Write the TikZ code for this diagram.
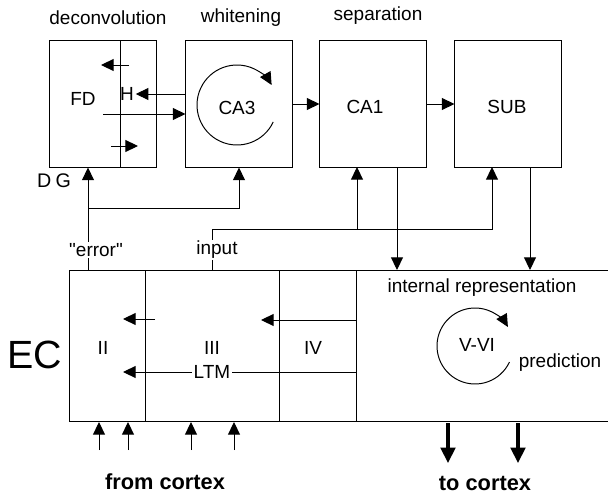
\documentclass[tikz,border=0pt]{standalone}
\usepackage{fontspec}
\setmainfont{Liberation Sans}
\usepackage{tikz}
\usetikzlibrary{arrows.meta,positioning}

\begin{document}
\begin{tikzpicture}[x=0.025cm,y=-0.025cm,line width=0.7pt,
    >={Triangle[length=9pt,width=8.5pt]},
    area/.style={draw,minimum width=2.65cm,minimum height=3.15cm,inner sep=0pt},
    lbl/.style={font=\fontsize{13.5}{16}\selectfont,inner sep=1pt},
    bigbold/.style={font=\fontsize{15.5}{18}\selectfont\bfseries},
    fatarrow/.style={line width=2.2pt,-{Triangle[length=11pt,width=10.5pt]}}]
    \useasboundingbox (0,0) rectangle (608,493);

    % hippocampal areas
    \node[area] (fd) at (103,104) {};
    \node[area] (ca3) at (239,104) {};
    \node[area] (ca1) at (373,104) {};
    \node[area] (sub) at (508,104) {};
    \draw (120,41) -- (120,167); % hilus border
    \node[lbl] (tdec) at (108,18) {deconvolution};
    \node[lbl] (twhite) at (241,18) {whitening};
    \node[lbl] (tsep) at (378,16) {separation};
    \node[lbl] (fdl) at (83,99) {FD};
    \node[lbl] (hl) at (127,94) {H};
    \node[lbl] (ca3l) at (237,108) {CA3};
    \node[lbl] (ca1l) at (365,107) {CA1};
    \node[lbl] (subl) at (507,107) {SUB};
    \node[font=\fontsize{14}{16}\selectfont] (dg) at (54,181) {D\hspace{3pt}G};

    % arrows inside FD and to CA3
    \draw[->] (129,65) -- (101,65);
    \draw[->] (ca3.west |- hl.east) -- (hl.east);
    \coordinate (fdout) at (103,114);
    \draw[->] (fdout) -- (fdout -| ca3.west);
    \draw[->] (111,146) -- (138,146);
    \draw[->] (237,105) ++(25:40) arc[start angle=25,end angle=330,radius=40]; % recurrent CA3
    \draw[->] (ca3) -- (ca1);
    \draw[->] (ca1) -- (sub);

    % entorhinal cortex
    \draw (608,270) -- (69,270) -- (69,421) -- (608,421);
    \foreach \x in {145,279,356}
        \draw (\x,270) -- (\x,421);
    \node[font=\fontsize{28}{32}\selectfont] (ec) at (35,355) {EC};
    \node[lbl] (two) at (103,348) {II};
    \node[lbl] (three) at (212,348) {III};
    \node[lbl] (four) at (313,348) {IV};
    \node[lbl] (ltm) at (212,372) {LTM};
    \node[lbl] (vvi) at (477,345) {V-VI};
    \node[lbl] (intrep) at (482,288) {internal representation};
    \node[lbl] (pred) at (560,363) {prediction};
    \draw[->] (155,319) -- (123,319);
    \draw[->] (ltm) -- (123,372);
    \draw (356,372) -- (ltm);
    \draw[->] (356,320) -- (261,320);
    \draw[->] (475,346) ++(25:38) arc[start angle=25,end angle=330,radius=38]; % recurrent V-VI

    % EC to hippocampus
    \coordinate (err) at (88,270);
    \coordinate (errsplit) at (88,208);
    \draw[->] (err) -- (err |- fd.south);
    \draw[->] (errsplit) -| (ca3.south);
    \node[lbl,fill=white] (errl) at (96,250) {\textquotedbl error\textquotedbl};
    \coordinate (inp) at (212,270);
    \coordinate (inpsplit) at (212,229);
    \coordinate (ca1in) at (357,167);
    \coordinate (subin) at (492,167);
    \draw (inp) -- (inpsplit);
    \draw[->] (inpsplit) -| (subin);
    \draw[->] (ca1in |- inpsplit) -- (ca1in);
    \node[lbl,fill=white] (inpl) at (217,250) {input};

    % hippocampus back to EC
    \coordinate (ca1out) at (397,167);
    \coordinate (subout) at (530,167);
    \draw[->] (ca1out) -- (ca1out |- 0,270);
    \draw[->] (subout) -- (subout |- 0,270);

    % cortex
    \foreach \x in {99,128,191,234}
        \draw[->] (\x,450) -- (\x,422);
    \foreach \x in {448,518}
        \draw[fatarrow] (\x,423) -- (\x,463);
    \node[bigbold] (fromc) at (165,482) {from cortex};
    \node[bigbold] (toc) at (485,483) {to cortex};
\end{tikzpicture}
\end{document}
